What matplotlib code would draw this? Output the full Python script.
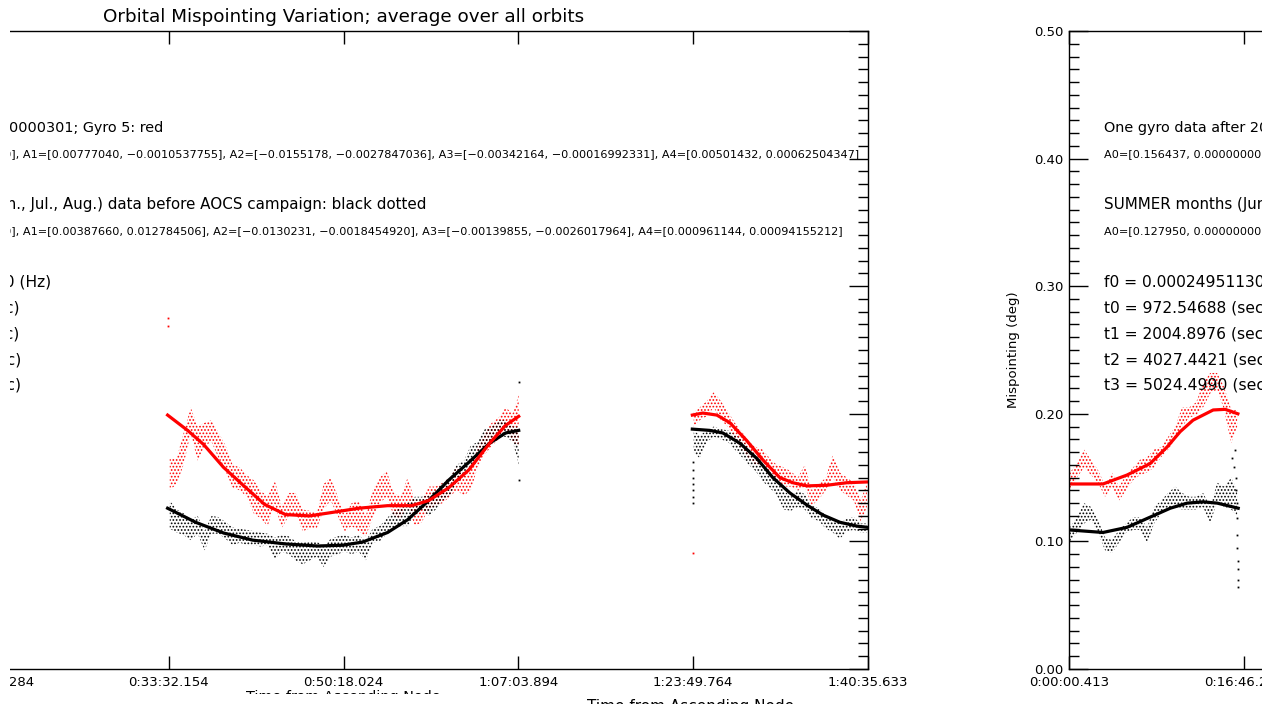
import matplotlib
matplotlib.use("Agg")
import matplotlib.pyplot as plt
from matplotlib.patches import Rectangle
from matplotlib.ticker import MultipleLocator, NullLocator

plt.rcParams['font.family'] = ['DejaVu Sans']
plt.rcParams['hatch.linewidth'] = 0.8

# ---- axis ticks (seconds from ascending node) ----
xtick_sec = [0.413, 1006.284, 2012.154, 3018.024, 4023.894, 5029.764, 6035.633]
xtick_labels = ['0:00:00.413', '0:16:46.284', '0:33:32.154', '0:50:18.024',
                '1:07:03.894', '1:23:49.764', '1:40:35.633']
ytick_vals = [0.0, 0.1, 0.2, 0.3, 0.4, 0.5]
ytick_labels = ['0.00', '0.10', '0.20', '0.30', '0.40', '0.50']

# ---- segment 1 : 0 .. t0 ----
seg1_t = [6, 46, 87, 127, 167, 208, 248, 288, 329, 369, 409, 450, 490, 530, 571,
          611, 651, 692, 732, 772, 813, 853, 893, 934, 968]
seg1_red_lo = [0.140, 0.150, 0.158, 0.152, 0.146, 0.135, 0.143, 0.132, 0.140, 0.148, 0.152, 0.154, 0.158,
               0.166, 0.172, 0.180, 0.190, 0.197, 0.199, 0.205, 0.216, 0.219, 0.203, 0.177, 0.190]
seg1_red_hi = [0.154, 0.161, 0.172, 0.164, 0.156, 0.144, 0.154, 0.143, 0.152, 0.158, 0.164, 0.166, 0.172,
               0.174, 0.182, 0.190, 0.205, 0.205, 0.209, 0.224, 0.232, 0.232, 0.221, 0.203, 0.203]
seg1_blk_lo = [0.100, 0.107, 0.114, 0.117, 0.107, 0.093, 0.091, 0.099, 0.107, 0.109, 0.109, 0.099, 0.114,
               0.122, 0.125, 0.127, 0.125, 0.125, 0.125, 0.127, 0.114, 0.132, 0.127, 0.125, 0.120]
seg1_blk_hi = [0.111, 0.119, 0.130, 0.127, 0.117, 0.103, 0.101, 0.109, 0.114, 0.119, 0.119, 0.111, 0.127,
               0.132, 0.138, 0.143, 0.138, 0.135, 0.135, 0.138, 0.127, 0.146, 0.143, 0.150, 0.140]
fit1_red_t = [0, 196, 334, 467, 565, 640, 714, 830, 899, 972]
fit1_red_v = [0.145, 0.145, 0.152, 0.161, 0.174, 0.186, 0.195, 0.203, 0.2035, 0.200]
fit1_blk_t = [0, 196, 334, 467, 583, 680, 773, 853, 974]
fit1_blk_v = [0.109, 0.107, 0.111, 0.119, 0.126, 0.130, 0.131, 0.130, 0.126]

# ---- segment 2 : t1 .. t2 ----
seg2_t = [2018, 2058, 2098, 2139, 2179, 2219, 2259, 2300, 2340, 2380, 2421, 2461, 2501, 2541, 2582, 2622,
          2662, 2703, 2743, 2783, 2823, 2864, 2904, 2944, 2985, 3025, 3065, 3105, 3146, 3186, 3226, 3267,
          3307, 3347, 3387, 3428, 3468, 3508, 3549, 3589, 3629, 3669, 3710, 3750, 3790, 3831, 3871, 3911,
          3951, 3992, 4026]
seg2_red_lo = [0.140, 0.145, 0.160, 0.185, 0.163, 0.175, 0.178, 0.165, 0.155, 0.142, 0.140, 0.135, 0.122,
               0.118, 0.112, 0.130, 0.110, 0.120, 0.122, 0.108, 0.110, 0.110, 0.125, 0.132, 0.120, 0.108,
               0.112, 0.108, 0.104, 0.118, 0.130, 0.135, 0.120, 0.118, 0.130, 0.112, 0.115, 0.125, 0.128,
               0.130, 0.135, 0.140, 0.136, 0.140, 0.158, 0.168, 0.175, 0.180, 0.188, 0.178, 0.175]
seg2_red_hi = [0.165, 0.165, 0.185, 0.205, 0.190, 0.193, 0.195, 0.185, 0.175, 0.160, 0.158, 0.152, 0.148,
               0.140, 0.135, 0.148, 0.128, 0.138, 0.138, 0.125, 0.124, 0.122, 0.145, 0.150, 0.135, 0.120,
               0.130, 0.132, 0.120, 0.140, 0.150, 0.155, 0.138, 0.135, 0.150, 0.132, 0.132, 0.143, 0.143,
               0.146, 0.150, 0.158, 0.154, 0.158, 0.175, 0.185, 0.193, 0.197, 0.205, 0.200, 0.215]
seg2_blk_lo = [0.110, 0.107, 0.105, 0.101, 0.106, 0.093, 0.106, 0.106, 0.102, 0.097, 0.099, 0.097, 0.097,
               0.096, 0.097, 0.086, 0.092, 0.090, 0.085, 0.082, 0.085, 0.088, 0.080, 0.088, 0.090, 0.092,
               0.090, 0.092, 0.085, 0.099, 0.100, 0.106, 0.110, 0.112, 0.112, 0.120, 0.125, 0.120, 0.125,
               0.132, 0.136, 0.146, 0.150, 0.160, 0.163, 0.175, 0.178, 0.182, 0.182, 0.178, 0.160]
seg2_blk_hi = [0.132, 0.125, 0.122, 0.117, 0.120, 0.108, 0.120, 0.119, 0.115, 0.111, 0.110, 0.109, 0.108,
               0.107, 0.106, 0.103, 0.105, 0.104, 0.100, 0.099, 0.100, 0.100, 0.096, 0.102, 0.104, 0.105,
               0.103, 0.105, 0.100, 0.110, 0.112, 0.118, 0.124, 0.126, 0.130, 0.135, 0.135, 0.136, 0.140,
               0.146, 0.150, 0.160, 0.163, 0.175, 0.178, 0.188, 0.190, 0.195, 0.195, 0.190, 0.190]
fit2_red_t = [2006, 2121, 2213, 2328, 2449, 2564, 2685, 2823, 2967, 3105, 3272, 3410, 3508, 3623, 3739,
              3859, 3951, 4026]
fit2_red_v = [0.199, 0.187, 0.176, 0.158, 0.143, 0.129, 0.121, 0.120, 0.123, 0.126, 0.128, 0.128, 0.132,
              0.142, 0.156, 0.177, 0.191, 0.198]
fit2_blk_t = [2006, 2167, 2328, 2495, 2685, 2869, 3013, 3128, 3272, 3387, 3508, 3623, 3739, 3859, 3951, 4026]
fit2_blk_v = [0.126, 0.115, 0.1066, 0.101, 0.098, 0.0964, 0.097, 0.0995, 0.107, 0.117, 0.132, 0.148, 0.162,
              0.177, 0.185, 0.187]

# ---- segment 3 : t3 .. end of orbit ----
seg3_t = [5033, 5068, 5108, 5148, 5189, 5229, 5269, 5310, 5350, 5390, 5430, 5471, 5511, 5551, 5592, 5632,
          5672, 5712, 5753, 5793, 5833, 5874, 5914, 5954, 5994, 6029]
seg3_red_lo = [0.190, 0.195, 0.198, 0.205, 0.195, 0.190, 0.180, 0.172, 0.165, 0.160, 0.160, 0.150, 0.148,
               0.143, 0.143, 0.140, 0.143, 0.128, 0.133, 0.140, 0.150, 0.140, 0.136, 0.132, 0.115, 0.127]
seg3_red_hi = [0.201, 0.205, 0.210, 0.217, 0.210, 0.202, 0.193, 0.186, 0.178, 0.174, 0.172, 0.165, 0.160,
               0.158, 0.155, 0.150, 0.160, 0.140, 0.145, 0.150, 0.168, 0.154, 0.150, 0.146, 0.132, 0.146]
seg3_blk_lo = [0.170, 0.165, 0.178, 0.182, 0.180, 0.178, 0.172, 0.166, 0.160, 0.155, 0.147, 0.142, 0.136,
               0.125, 0.124, 0.127, 0.125, 0.118, 0.116, 0.110, 0.107, 0.102, 0.108, 0.109, 0.107, 0.107]
seg3_blk_hi = [0.187, 0.183, 0.187, 0.190, 0.188, 0.187, 0.184, 0.180, 0.172, 0.168, 0.160, 0.155, 0.150,
               0.140, 0.135, 0.140, 0.137, 0.128, 0.126, 0.120, 0.118, 0.114, 0.118, 0.119, 0.114, 0.114]
fit3_red_t = [5025, 5085, 5166, 5241, 5338, 5430, 5528, 5603, 5684, 5799, 5914, 6035]
fit3_red_v = [0.199, 0.2006, 0.199, 0.193, 0.179, 0.164, 0.150, 0.146, 0.1435, 0.144, 0.146, 0.1466]
fit3_blk_t = [5025, 5125, 5200, 5298, 5396, 5488, 5586, 5684, 5776, 5874, 5971, 6035]
fit3_blk_v = [0.188, 0.187, 0.185, 0.177, 0.165, 0.150, 0.138, 0.1285, 0.1207, 0.115, 0.112, 0.111]

# isolated dots
red_out_t = [2006, 2006, 5028]
red_out_v = [0.275, 0.269, 0.091]
blk_out_t = [940, 948, 955, 960, 963, 965, 967, 968, 969, 970, 971, 972, 972,
             4026, 4026, 5030, 5030, 5030, 5030, 5030, 5030, 5030]
blk_out_v = [0.165, 0.158, 0.172, 0.150, 0.140, 0.130, 0.118, 0.105, 0.095, 0.085, 0.078, 0.070, 0.064,
             0.225, 0.148, 0.162, 0.156, 0.150, 0.145, 0.140, 0.135, 0.130]

texts = [
    (128, 'big', "One gyro data after 20000301; Gyro 5: red", 309),
    (154, 'small', "A0=[0.156437, 0.00000000], A1=[0.00777040, \u22120.0010537755], "
                   "A2=[\u22120.0155178, \u22120.0027847036], A3=[\u22120.00342164, \u22120.00016992331], "
                   "A4=[0.00501432, 0.00062504347]", 998),
    (205, 'big', "SUMMER months (Jun., Jul., Aug.) data before AOCS campaign: black dotted", 574),
    (231, 'small', "A0=[0.127950, 0.00000000], A1=[0.00387660, 0.012784506], "
                   "A2=[\u22120.0130231, \u22120.0018454920], A3=[\u22120.00139855, \u22120.0026017964], "
                   "A4=[0.000961144, 0.00094155212]", 986),
    (282, 'big', "f0 = 0.00024951130 (Hz)", 197),
    (308, 'big', "t0 = 972.54688 (sec)", 166),
    (334, 'big', "t1 = 2004.8976 (sec)", 166),
    (360, 'big', "t2 = 4027.4421 (sec)", 166),
    (385, 'big', "t3 = 5024.4990 (sec)", 166),
]

W, H = 1276, 704
fig = plt.figure(figsize=(W / 100, H / 100), dpi=100)
fig.patch.set_facecolor('white')
renderer = fig.canvas.get_renderer()

AX_W, AX_TOP, AX_BOT = 1049, 31, 669


def fit_width(txt, target):
    w = txt.get_window_extent(renderer).width
    txt.set_fontsize(txt.get_fontsize() * target / w)


def band(ax, t, lo, hi, color):
    ax.fill_between(t, lo, hi, facecolor='none', edgecolor=color, hatch='.....', linewidth=0)


def draw_panel(ax):
    band(ax, seg1_t, seg1_red_lo, seg1_red_hi, 'red')
    band(ax, seg2_t, seg2_red_lo, seg2_red_hi, 'red')
    band(ax, seg3_t, seg3_red_lo, seg3_red_hi, 'red')
    band(ax, seg1_t, seg1_blk_lo, seg1_blk_hi, 'black')
    band(ax, seg2_t, seg2_blk_lo, seg2_blk_hi, 'black')
    band(ax, seg3_t, seg3_blk_lo, seg3_blk_hi, 'black')
    ax.plot(red_out_t, red_out_v, ls='none', marker='s', ms=1.3, color='red', mew=0)
    ax.plot(blk_out_t, blk_out_v, ls='none', marker='s', ms=1.3, color='black', mew=0)
    for ft, fv in [(fit1_blk_t, fit1_blk_v), (fit2_blk_t, fit2_blk_v), (fit3_blk_t, fit3_blk_v)]:
        ax.plot(ft, fv, color='black', lw=2.3, solid_joinstyle='round')
    for ft, fv in [(fit1_red_t, fit1_red_v), (fit2_red_t, fit2_red_v), (fit3_red_t, fit3_red_v)]:
        ax.plot(ft, fv, color='red', lw=2.3, solid_joinstyle='round')

    ax.set_xlim(xtick_sec[0], xtick_sec[-1])
    ax.set_ylim(0, 0.5)
    ax.set_xticks(xtick_sec, xtick_labels)
    ax.set_yticks(ytick_vals, ytick_labels)
    ax.xaxis.set_minor_locator(NullLocator())
    ax.yaxis.set_minor_locator(MultipleLocator(0.01))
    ax.tick_params(axis='x', which='major', direction='in', top=True, bottom=True,
                   length=9.5, width=1.0, pad=5, labelsize=9.5)
    ax.tick_params(axis='y', which='major', direction='in', left=True, right=True,
                   length=14, width=1.0, pad=4, labelsize=9.5)
    ax.tick_params(axis='y', which='minor', direction='in', left=True, right=True,
                   length=7, width=1.0)
    for s in ax.spines.values():
        s.set_linewidth(1.0)
    ax.set_ylabel('Mispointing (deg)', fontsize=9.5, va='center')
    ax.yaxis.set_label_coords(-55 / AX_W, 0.5)

    ttl = ax.text(0.5, 1 + (AX_TOP - 17) / (AX_BOT - AX_TOP),
                  'Orbital Mispointing Variation; average over all orbits',
                  transform=ax.transAxes, ha='center', va='center', fontsize=11)
    fit_width(ttl, 482)

    for ypix, kind, s, target in texts:
        t = ax.text(35 / AX_W, (AX_BOT - ypix) / (AX_BOT - AX_TOP), s, transform=ax.transAxes,
                    ha='left', va='center', fontsize=10 if kind == 'big' else 7.5)
        fit_width(t, target)


def px_axes(left):
    return fig.add_axes([left / W, (H - AX_BOT) / H, AX_W / W, (AX_BOT - AX_TOP) / H])


ax_l = px_axes(-181)
ax_r = px_axes(1069)
draw_panel(ax_l)
draw_panel(ax_r)

# fragments of the x title: a thin sliver under the left panel, a cut copy further right
xl1 = fig.text(343 / W, (H - 690) / H, 'Time from Ascending Node', ha='center', va='top', fontsize=11)
fit_width(xl1, 195)
xl2 = fig.text(691 / W, (H - 711) / H, 'Time from Ascending Node', ha='center', va='baseline', fontsize=11)
fit_width(xl2, 207)

# white masks: picture is cut at both sides, and the sliver keeps only its top
masks = [(0, 10, 0, H), (1262, W, 0, H), (225, 460, 694, H)]
for x0, x1, y0, y1 in masks:
    fig.add_artist(Rectangle((x0 / W, (H - y1) / H), (x1 - x0) / W, (y1 - y0) / H,
                             transform=fig.transFigure, facecolor='white', edgecolor='none',
                             zorder=100))

fig.savefig('out.png', dpi=100, facecolor='white')
